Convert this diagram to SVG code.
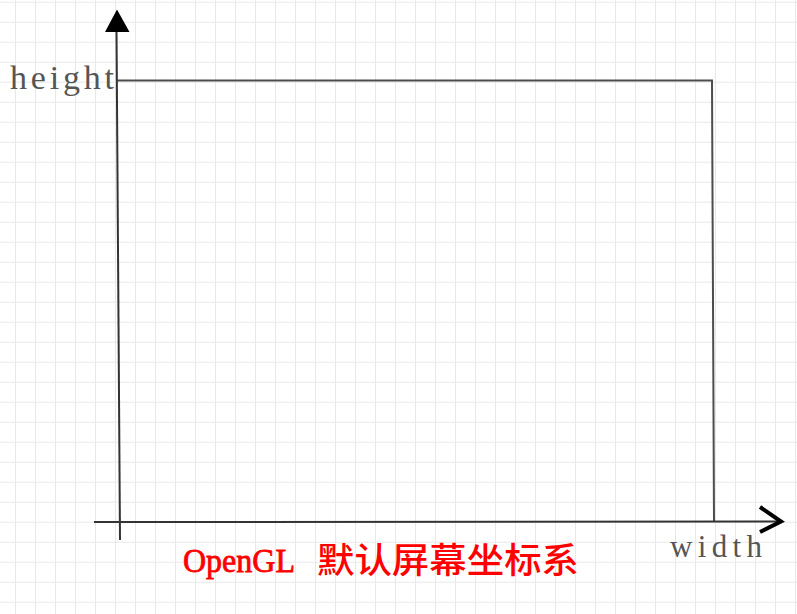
<svg xmlns="http://www.w3.org/2000/svg" width="797" height="614" viewBox="0 0 797 614">
  <style>
    .axis { stroke: #333333; stroke-width: 2; fill: none; }
    .frame { stroke: #4d4d4d; stroke-width: 2; fill: none; }
    .lbl { font-family: "Liberation Serif", "Times New Roman", serif; fill: #555555; }
    .cap { fill: #ff0000; }
  </style>
  <defs>
    <pattern id="grid" x="15" y="1.7" width="20" height="20" patternUnits="userSpaceOnUse">
      <path d="M0 0 V20 M0 0 H20" stroke="#e8e8e8" stroke-width="2" fill="none"/>
    </pattern>
  </defs>
  <rect width="797" height="614" fill="#ffffff"/>
  <rect width="797" height="614" fill="url(#grid)"/>

  <g id="frame">
    <polyline class="frame" points="117,80.5 712,80.5 714,521"/>
  </g>

  <g id="connectors">
    <line class="axis" x1="116.5" y1="30" x2="120" y2="540"/>
    <polygon points="117,9.5 105,32 129.5,32" fill="#000000"/>
    <line class="axis" x1="94" y1="522" x2="779" y2="521.5"/>
    <polyline points="760,507 781,521.5 760,532" fill="none" stroke="#000000" stroke-width="4" stroke-linejoin="miter"/>
  </g>

  <g id="label-height">
    <text class="lbl" x="10" y="88.5" font-size="34" textLength="104" lengthAdjust="spacing">height</text>
  </g>

  <g id="label-width">
    <text class="lbl" x="670" y="556.5" font-size="31" textLength="92" lengthAdjust="spacing" fill="#333333">width</text>
  </g>

  <g id="caption">
    <text class="cap" y="571.5">
      <tspan x="183" font-family="'Liberation Serif', serif" font-size="34" stroke="#ff0000" stroke-width="0.8" textLength="112" lengthAdjust="spacingAndGlyphs">OpenGL</tspan>
      <tspan x="317" y="573" font-family="'Noto Sans CJK SC', 'Noto Sans CJK JP', sans-serif" font-size="35" font-weight="500" textLength="262" lengthAdjust="spacingAndGlyphs">默认屏幕坐标系</tspan>
    </text>
  </g>
</svg>
